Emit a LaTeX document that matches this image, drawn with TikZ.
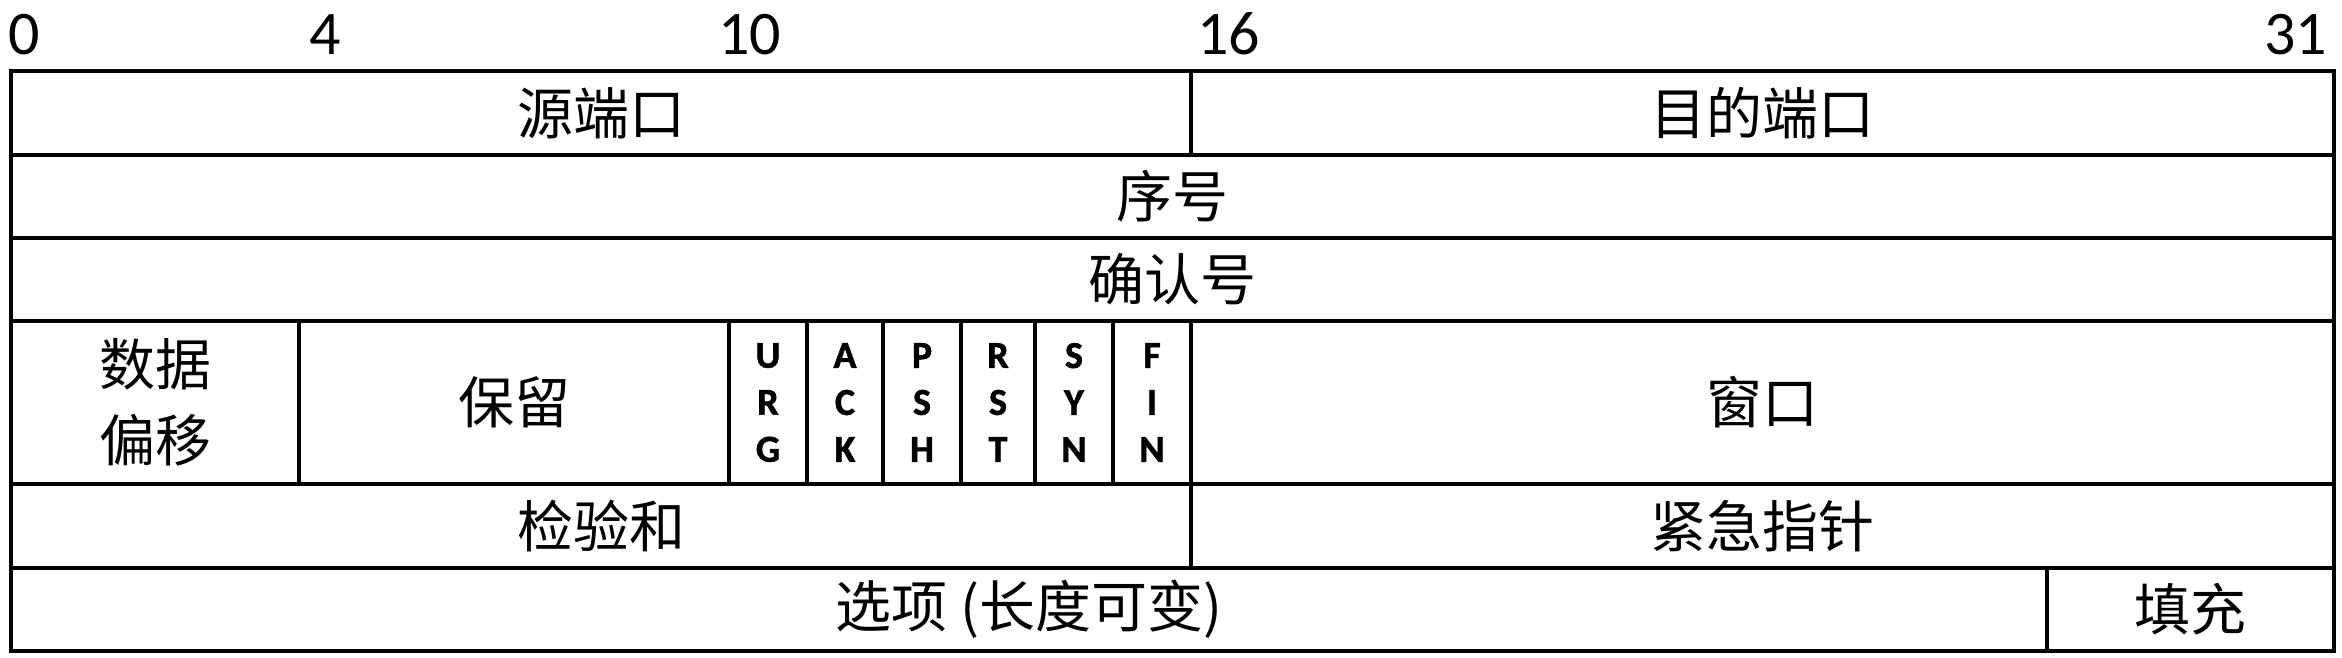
\documentclass[tikz,border=0pt]{standalone}
\usepackage{fontspec}
\setmainfont{Noto Sans CJK SC}
\newfontfamily\latf{Carlito}
\newfontfamily\latb{Carlito}[UprightFont={* Bold}, FakeBold=1.5]
\begin{document}
\begin{tikzpicture}[x=0.5pt,y=-0.5pt,
  fieldbox/.style={draw=black, line width=1.6pt, rectangle, inner sep=0pt, outer sep=0pt, align=center,
    font=\fontsize{28pt}{38pt}\selectfont},
  flagbox/.style={fieldbox, font=\latb\fontsize{19pt}{23.5pt}\selectfont},
  bitlabel/.style={inner sep=0pt, outer sep=0pt, font=\latf\fontsize{31pt}{36pt}\selectfont}]
\useasboundingbox (0,0) rectangle (2342,658);
\newcommand\fld[7][fieldbox]{\node[#1, minimum width={(#5-#3)*0.5pt}, minimum height={(#6-#4)*0.5pt}] (#2) at ({(#3+#5)/2},{(#4+#6)/2}) {#7};}
% bit labels
\node[bitlabel, anchor=base west] (b0) at (8.5,55) {0};
\node[bitlabel, anchor=base west] (b4) at (309,55) {4};
\node[bitlabel, anchor=base west] (b10) at (718,55) {10};
\node[bitlabel, anchor=base west] (b16) at (1197,55) {16};
\node[bitlabel, anchor=base east] (b31) at (2327,55) {31};
% row 1
\fld{src}{11}{71}{1191}{155}{源端口}
\fld{dst}{1191}{71}{2334}{155}{目的端口}
% row 2
\fld{seq}{11}{155}{2334}{238}{序号}
% row 3
\fld{ack}{11}{238}{2334}{321}{确认号}
% row 4
\fld{off}{11}{321}{299}{484}{数据\\偏移}
\fld{res}{299}{321}{729}{484}{保留}
\fld[flagbox]{urg}{729}{321}{807}{484}{U\\R\\G}
\fld[flagbox]{fack}{807}{321}{883}{484}{A\\C\\K}
\fld[flagbox]{psh}{883}{321}{961}{484}{P\\S\\H}
\fld[flagbox]{rst}{961}{321}{1035}{484}{R\\S\\T}
\fld[flagbox]{syn}{1035}{321}{1113}{484}{S\\Y\\N}
\fld[flagbox]{fin}{1113}{321}{1191}{484}{F\\I\\N}
\fld{win}{1191}{321}{2334}{484}{窗口}
% row 5
\fld{chk}{11}{484}{1191}{568}{检验和}
\fld{urp}{1191}{484}{2334}{568}{紧急指针}
% row 6
\fld{opt}{11}{568}{2047}{651}{选项 (长度可变)}
\fld{pad}{2047}{568}{2334}{651}{填充}
\end{tikzpicture}
\end{document}
